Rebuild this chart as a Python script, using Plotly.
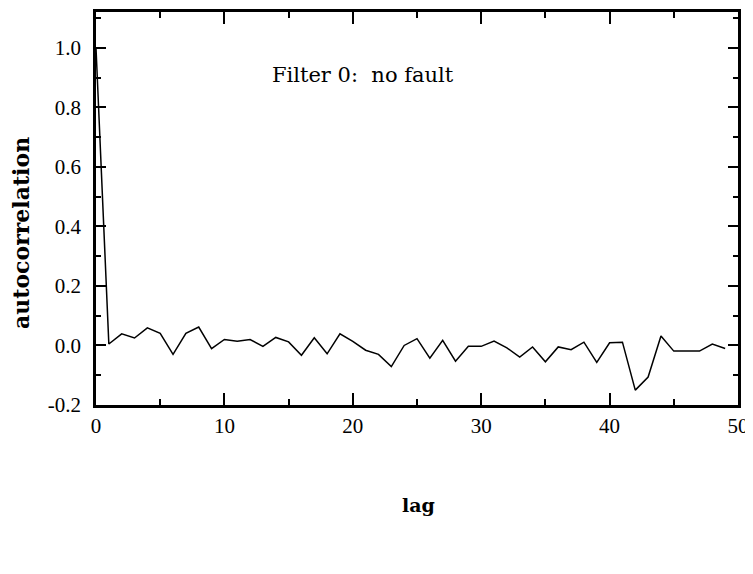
import plotly.graph_objects as go

lags = list(range(0, 50))
acf = [1.0, 0.005, 0.039, 0.025, 0.059, 0.041, -0.030, 0.041, 0.062, -0.011,
       0.020, 0.014, 0.020, -0.003, 0.027, 0.012, -0.033, 0.026, -0.028, 0.039,
       0.014, -0.016, -0.030, -0.071, 0.000, 0.023, -0.043, 0.017, -0.053, -0.003,
       -0.003, 0.015, -0.008, -0.039, -0.005, -0.055, -0.005, -0.014, 0.011, -0.057,
       0.009, 0.011, -0.150, -0.106, 0.032, -0.019, -0.019, -0.019, 0.005, -0.010]

x_ticks = [0, 10, 20, 30, 40, 50]
y_ticks = [-0.2, 0.0, 0.2, 0.4, 0.6, 0.8, 1.0]
y_labels = ["-0.2", "0.0", "0.2", "0.4", "0.6", "0.8", "1.0"]

FONT = "Liberation Serif"
TFONT = "DejaVu Serif"

fig = go.Figure()
fig.add_trace(go.Scatter(x=lags, y=acf, mode="lines",
                         line=dict(color="black", width=1.5),
                         showlegend=False, hoverinfo="skip"))

fig.add_annotation(x=20.8, y=0.91, xref="x", yref="y", text="Filter 0:  no fault",
                   showarrow=False, font=dict(family=TFONT, size=21, color="black"))
fig.add_annotation(x=-0.1168, y=0.4377, xref="paper", yref="paper",
                   text="<b>autocorrelation</b>", textangle=-90, showarrow=False,
                   xanchor="center", yanchor="middle",
                   font=dict(family=TFONT, size=22, color="black"))
fig.add_annotation(x=0.5016, y=-0.2545, xref="paper", yref="paper",
                   text="<b>lag</b>", showarrow=False,
                   xanchor="center", yanchor="middle",
                   font=dict(family=TFONT, size=19, color="black"))

fig.update_layout(
    width=745, height=566,
    margin=dict(l=88, r=15, t=4, b=169),
    plot_bgcolor="white", paper_bgcolor="white",
    font=dict(family=FONT, color="black"),
)
fig.update_xaxes(
    range=[0, 50], tickvals=x_ticks, ticktext=[str(v) for v in x_ticks],
    ticks="inside", ticklen=12, tickwidth=2, tickcolor="black",
    minor=dict(dtick=5, tick0=0, ticks="inside", ticklen=6, tickwidth=2, tickcolor="black"),
    showline=True, linewidth=2.5, linecolor="black", mirror="allticks",
    showgrid=False, zeroline=False, automargin=False,
    tickfont=dict(family=FONT, size=21, color="black"),
)
fig.update_yaxes(
    range=[-0.2, 1.12], tickvals=y_ticks, ticktext=y_labels,
    ticks="inside", ticklen=10, tickwidth=2, tickcolor="black",
    minor=dict(dtick=0.1, tick0=0, ticks="inside", ticklen=5, tickwidth=2, tickcolor="black"),
    showline=True, linewidth=2.5, linecolor="black", mirror="allticks",
    showgrid=False, zeroline=False, ticklabelstandoff=8, automargin=False,
    tickfont=dict(family=FONT, size=21, color="black"),
)

fig.write_html("out.html")
